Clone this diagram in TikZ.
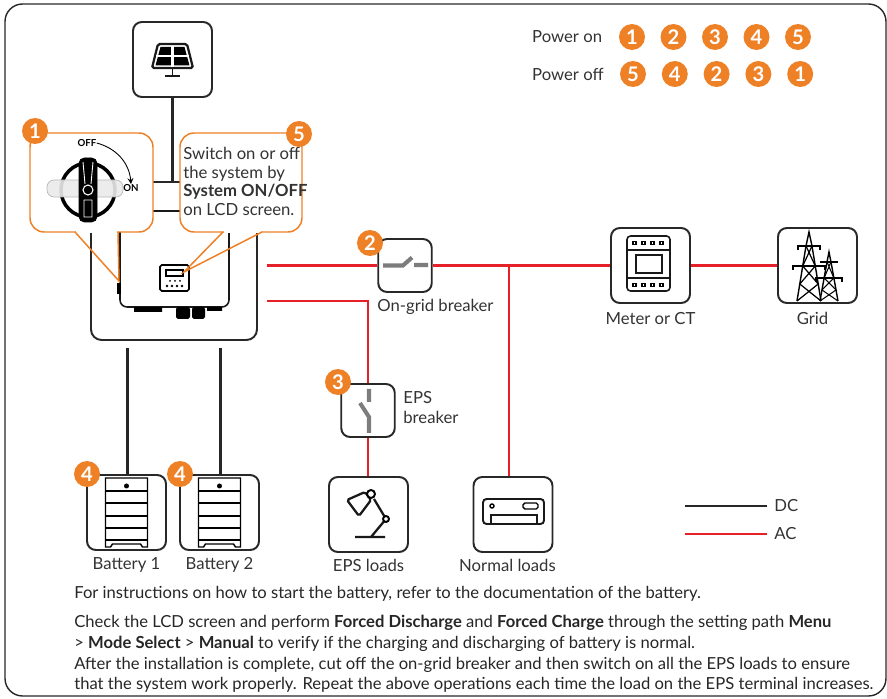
\documentclass[tikz,border=0pt]{standalone}
\usepackage{fontspec}
\setmainfont{Lato}
\usetikzlibrary{positioning}

\definecolor{badgeorange}{RGB}{238,128,38}
\definecolor{acred}{RGB}{230,32,40}
\definecolor{boxgray}{RGB}{40,40,40}
\definecolor{switchgray}{RGB}{125,125,125}

\tikzset{
  unit/.style={draw=boxgray, line width=1.1pt, rounded corners=5pt, fill=white,
    minimum width=1.58cm, minimum height=1.5cm, inner sep=0pt},
  breaker/.style={unit, minimum width=1.07cm, minimum height=1.06cm},
  badge/.style={circle, fill=badgeorange, text=white, inner sep=0pt,
    minimum size=0.52cm, font=\fontsize{11.5}{11.5}\selectfont\bfseries},
  dcline/.style={line width=1.7pt, draw=black!85},
  acline/.style={line width=1.6pt, draw=acred},
  bubble/.style={draw=badgeorange, line width=0.85pt, rounded corners=8pt, fill=white},
  pointer/.style={draw=badgeorange, line width=0.85pt},
  lbl/.style={font=\fontsize{9.5}{10.6}\selectfont, text=black!80},
  note/.style={font=\fontsize{9.45}{11}\selectfont, text=black!85, anchor=base west, inner sep=0pt},
  glyph/.style={line width=1.1pt, draw=black!90},
  blade/.style={line width=2.3pt, draw=switchgray},
}

\begin{document}
\begin{tikzpicture}[x=0.02cm, y=-0.02cm, >=stealth]
  \useasboundingbox (0,0) rectangle (887,699);
  \draw[boxgray, line width=0.8pt, rounded corners=10pt] (5,4) rectangle (886,696);

  % start-up / shut-down order
  \node[lbl, anchor=west] (poweron) at (526,37) {Power on};
  \node[lbl, anchor=west] (poweroff) at (526,74) {Power off};
  \foreach \n [count=\i] in {1,2,3,4,5}
    \node[badge] (on\i) at ({632+41.5*(\i-1)},37) {\n};
  \foreach \n [count=\i] in {5,4,2,3,1}
    \node[badge] (off\i) at ({633+41.8*(\i-1)},74) {\n};

  % PV panel
  \node[unit] (pv) at (172.5,59.5) {};
  \draw[glyph, line width=1.3pt, rounded corners=1pt] (158,44) -- (187,44) -- (193,68) -- (152,68) -- cycle;
  \fill (160.5,47) -- (184.5,47) -- (189.5,65.5) -- (155.5,65.5) -- cycle;
  \draw[white, line width=1.4pt] (172.5,46) -- (172.5,67) (156,56) -- (189,56);
  \draw[glyph] (172.5,68) -- (172.5,75) (165,76) -- (180,76);

  % inverter
  \node[unit, minimum width=3.32cm, minimum height=3.16cm, rounded corners=6pt] (house) at (174,261) {};
  \draw[dcline] (pv.south) -- (pv.south |- house.north);
  \draw[glyph, line width=0.9pt, fill=white, rounded corners=4pt] (120,211) rectangle (229,307);
  \fill (117,283) rectangle (121,294);
  \fill (134,307) rectangle (162,312) (207,307) rectangle (222,311);
  \fill[rounded corners=1pt] (176,307) rectangle (190,319) (192,307) rectangle (205,319);
  \draw[line width=0.9pt, rounded corners=1pt] (160,265) rectangle (189,291);
  \draw[line width=0.7pt] (166,270) rectangle (183,276);
  \foreach \x in {170,175,180} \fill (\x,281) circle (1);
  \foreach \x in {167,172,177,182} \fill (\x,286) circle (1.4);

  % isolator callout
  \draw[bubble] (30,133) rectangle (153,232);
  \draw[white, line width=1.6pt] (76,232) -- (117,232);
  \draw[pointer] (75,232) -- (119,281) -- (118,232);
  \draw[line width=2pt] (88,190) circle (27);
  \draw[black!30, fill=black!8, opacity=0.9, rounded corners=4pt] (47,180) rectangle (123,197);
  \filldraw[rounded corners=3pt] (79,158) rectangle (97,222);
  \draw[white, line width=0.5pt] (83,162) -- (85,184) (93,162) -- (91,184) (84,200) rectangle (92,217);
  \filldraw[draw=white, line width=0.6pt] (88,190) circle (5);
  \node[font=\fontsize{5.5}{5.5}\selectfont\bfseries, inner sep=0pt] (offmark) at (87,143) {OFF};
  \node[font=\fontsize{5.5}{5.5}\selectfont\bfseries, inner sep=0pt] (onmark) at (131,188) {ON};
  \draw[->, line width=0.5pt] (offmark.east) to[bend left=35] (onmark.north);

  % LCD callout
  \draw[bubble] (180,133) rectangle (302,232);
  \draw[white, line width=1.6pt] (224,232) -- (261,232);
  \draw[pointer] (223,232) -- (184,272) -- (262,232);
  \node[lbl, anchor=north west, align=left, inner sep=0pt] (swtext) at (183,147)
    {Switch on or off\\the system by\\\textbf{System ON/OFF}\\on LCD screen.};
  \node[badge] (step1) at (35,131) {1};
  \node[badge] (step5) at (299,134) {5};

  % breakers
  \node[breaker] (ongrid) at (405,265.5) {};
  \draw[blade] (383,265.5) -- (403,265.5) -- (412,257.5) (414,265) -- (428,265);
  \node[badge] (step2) at (370,243) {2};
  \node[lbl, anchor=north west, inner sep=0pt] (ongridlbl) at (377,299) {On-grid breaker};
  \node[breaker] (epsbrk) at (368,410.5) {};
  \draw[blade] (369,389) -- (369,402) (360,403) -- (369,417) -- (369,433);
  \node[badge] (step3) at (338,382) {3};
  \node[lbl, anchor=north west, align=left, inner sep=0pt, font=\fontsize{9.5}{11.3}\selectfont] (epsbrklbl) at (403,391) {EPS\\breaker};

  % meter
  \node[unit] (meter) at (650.5,265.5) {};
  \node[lbl, below=1pt of meter] (meterlbl) {Meter or CT};
  \draw[glyph, line width=0.9pt, rounded corners=2pt] (627,236) rectangle (670,291);
  \draw[glyph, line width=0.9pt] (627,250) -- (670,250) (627,278) -- (670,278);
  \draw[glyph, line width=0.9pt] (636,255) rectangle (662,273);
  \foreach \x in {633,642,651,660} {
    \draw[line width=0.6pt] (\x,241.5) rectangle ++(3,3);
    \draw[line width=0.6pt] (\x,283.5) rectangle ++(3,3);
  }

  % grid
  \node[unit] (grid) at (817.5,265.5) {};
  \node[lbl, below=1pt of grid, xshift=-0.1cm] (gridlbl) {Grid};
  \draw[line width=0.8pt] (797,301) -- (806,246) -- (809,232) -- (812,246) -- (821,301);
  \draw[line width=0.7pt] (806,246) -- (815.3,266) -- (799.8,284) -- (821,301)
    (812,246) -- (802.7,266) -- (818.2,284) -- (797,301);
  \draw[line width=1.2pt] (797,246) -- (821,246) (792,266) -- (826,266);
  \draw[line width=0.8pt] (798,246) -- (798,250) (820,246) -- (820,250)
    (793,266) -- (793,270) (825,266) -- (825,270);
  \draw[line width=0.8pt] (820,301) -- (827,262) -- (829,252) -- (831,262) -- (838,301);
  \draw[line width=0.6pt] (827,262) -- (833.9,278) -- (822,290) -- (838,301)
    (831,262) -- (824.1,278) -- (836,290) -- (820,301);
  \draw[line width=1.1pt] (820,262) -- (838,262) (815,278) -- (843,278);
  \draw[line width=0.7pt] (816,278) -- (816,282) (842,278) -- (842,282);

  % loads
  \node[unit] (epsload) at (368.5,514.5) {};
  \node[lbl, below=0pt of epsload] (epsloadlbl) {EPS loads};
  \draw[glyph, line width=1.3pt] (355,537) -- (385,537) (371,537) -- (386,519) -- (374,499);
  \filldraw[fill=white, line width=1.1pt] (386,519) circle (3);
  \draw[glyph, line width=1.3pt, rounded corners=1pt] (365,492) -- (371,500) -- (359,516) -- (347,500) -- cycle;
  \filldraw[fill=white, line width=1.1pt] (371,494) circle (4);
  \node[unit] (normload) at (513,514.5) {};
  \node[lbl, below=0pt of normload, xshift=-0.11cm] (normloadlbl) {Normal loads};
  \draw[glyph, rounded corners=2pt] (483,499) rectangle (544,524);
  \draw[glyph, line width=0.9pt] (491,515) rectangle (537,524);
  \draw[line width=0.8pt] (492,506) circle (2);
  \draw[line width=0.8pt, rounded corners=1pt] (523,503) rectangle (538,509);

  % AC wiring
  \coordinate (acup) at (267,265.5);
  \coordinate (aclow) at (267,301);
  \coordinate (tap) at (509,265.5);
  \draw[acline] (acup) -- (ongrid.west);
  \draw[acline] (ongrid.east) -- (meter.west);
  \draw[acline] (meter.east) -- (grid.west);
  \draw[acline] (aclow) -| (epsbrk.north);
  \draw[acline] (epsbrk.south) -- (epsbrk.south |- epsload.north);
  \draw[acline] (tap) -- (tap |- normload.north);

  % batteries
  \foreach \cx/\k in {126.5/1, 219.5/2} {
    \node[unit] (bat\k) at (\cx,512.5) {};
    \node[lbl, below=0pt of bat\k] (batlbl\k) {Battery \k};
    \coordinate (dcend\k) at ({\cx+1},348);
    \draw[dcline] (dcend\k) -- (dcend\k |- bat\k.north);
    \draw[line width=0.8pt] ({\cx-21},547) -- ({\cx-21},478) -- ({\cx+21},478) -- ({\cx+21},547)
      -- ({\cx+16},547) -- ({\cx+14},544) -- ({\cx-14},544) -- ({\cx-16},547) -- cycle;
    \foreach \y in {491,503,516,528,540}
      \draw[line width=0.8pt] ({\cx-21},\y) -- ({\cx+21},\y);
    \fill (\cx,486) circle (2.5);
    \node[badge] (step4\k) at ({\cx-39.5},474) {4};
  }

  % legend
  \coordinate (dcA) at (685,506);
  \coordinate (dcB) at (767,506);
  \coordinate (acA) at (685,534);
  \coordinate (acB) at (767,534);
  \draw[dcline] (dcA) -- (dcB) node[lbl, right] (dclbl) {DC};
  \draw[acline] (acA) -- (acB) node[lbl, right] (aclbl) {AC};

  % notes
  \node[note] (note1) at (74,599) {For instructions on how to start the battery, refer to the documentation of the battery.};
  \node[note] (note2) at (74,628) {Check the LCD screen and perform \textbf{Forced Discharge} and \textbf{Forced Charge} through the setting path \textbf{Menu}};
  \node[note] (note3) at (74,648) {> \textbf{Mode Select} > \textbf{Manual} to verify if the charging and discharging of battery is normal.};
  \node[note] (note4) at (74,669) {After the installation is complete, cut off the on-grid breaker and then switch on all the EPS loads to ensure};
  \node[note] (note5) at (74,689) {that the system work properly. Repeat the above operations each time the load on the EPS terminal increases.};
\end{tikzpicture}
\end{document}
